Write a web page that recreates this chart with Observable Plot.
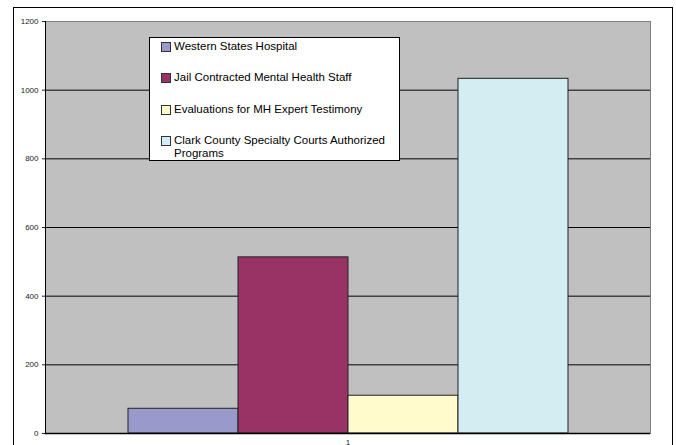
<!DOCTYPE html>
<html>
<head>
<meta charset="utf-8">
<script src="https://cdn.jsdelivr.net/npm/d3@7"></script>
<script src="https://cdn.jsdelivr.net/npm/@observablehq/plot@0.6"></script>
<style>
  html, body { margin: 0; padding: 0; background: #fff; overflow: hidden; }
  #wrap { position: relative; width: 676px; height: 445px; font-family: "Liberation Sans", Arial, sans-serif; }
  #outer { position: absolute; left: 13px; top: 7px; width: 660px; height: 500px; border-left: 1px solid #000; border-top: 1.5px solid #000; border-right: 1px solid #000; box-sizing: border-box; pointer-events: none; }
  #legend { position: absolute; left: 149px; top: 37px; width: 251px; height: 124px; background: #fff; border: 1px solid #000; box-sizing: border-box; font-size: 11.5px; color: #000; }
  .item { position: absolute; left: 11px; display: flex; align-items: flex-start; line-height: 13px; }
  .sw { width: 8px; height: 8px; border: 1px solid #333; margin-right: 3px; margin-top: 2px; flex: none; }
</style>
</head>
<body>
<div id="wrap">
  <div id="chart"></div>
  <div id="outer"></div>
  <div id="legend"></div>
</div>
<script>
const categories = [
  "Western States Hospital",
  "Jail Contracted Mental Health Staff",
  "Evaluations for MH Expert Testimony",
  "Clark County Specialty Courts Authorized Programs"
];
const legendLabels = [
  "Western States Hospital",
  "Jail Contracted Mental Health Staff",
  "Evaluations for MH Expert Testimony",
  "Clark County Specialty Courts Authorized<br>Programs"
];
const values = [72, 513, 110, 1033];
const colors = ["#9999CC", "#993366", "#FFFBCC", "#D3EDF3"];
const yTicks = [0, 200, 400, 600, 800, 1000, 1200];
const xLabel = ["1"];

const data = categories.map((c, i) => ({category: c, value: values[i]}));

const chart = Plot.plot({
  width: 676,
  height: 445,
  marginLeft: 45,
  marginTop: 21,
  marginRight: 26,
  marginBottom: 12,
  style: {fontFamily: "'Liberation Sans', Arial, sans-serif", background: "transparent"},
  x: {type: "band", domain: categories, paddingInner: 0, paddingOuter: 0.75, axis: null, label: null},
  y: {domain: [0, 1200], axis: null, label: null},
  color: {domain: categories, range: colors},
  marks: [
    Plot.frame({fill: "#C0C0C0", stroke: "none"}),
    Plot.ruleY(yTicks, {stroke: "#000", strokeWidth: 1}),
    Plot.frame({anchor: "top", stroke: "#808080"}),
    Plot.frame({anchor: "right", stroke: "#808080"}),
    Plot.barY(data, {x: "category", y: "value", fill: "category", stroke: "#222", strokeWidth: 1, inset: 0}),
    Plot.frame({anchor: "left", stroke: "#000"}),
    Plot.ruleY([0], {stroke: "#000", strokeWidth: 1.5}),
    Plot.axisY({ticks: yTicks, tickSize: 3, tickPadding: 4, fontSize: 8, color: "#222", label: null, tickFormat: d => String(d)}),
    Plot.text(xLabel, {frameAnchor: "bottom", dy: 11, fontSize: 8, fill: "#222"})
  ]
});
document.getElementById("chart").appendChild(chart);

const legend = document.getElementById("legend");
const tops = [2, 33, 65, 96];
legendLabels.forEach((lab, i) => {
  const it = document.createElement("div");
  it.className = "item";
  it.style.top = tops[i] + "px";
  it.innerHTML = `<span class="sw" style="background:${colors[i]}"></span><span>${lab}</span>`;
  legend.appendChild(it);
});
</script>
</body>
</html>
